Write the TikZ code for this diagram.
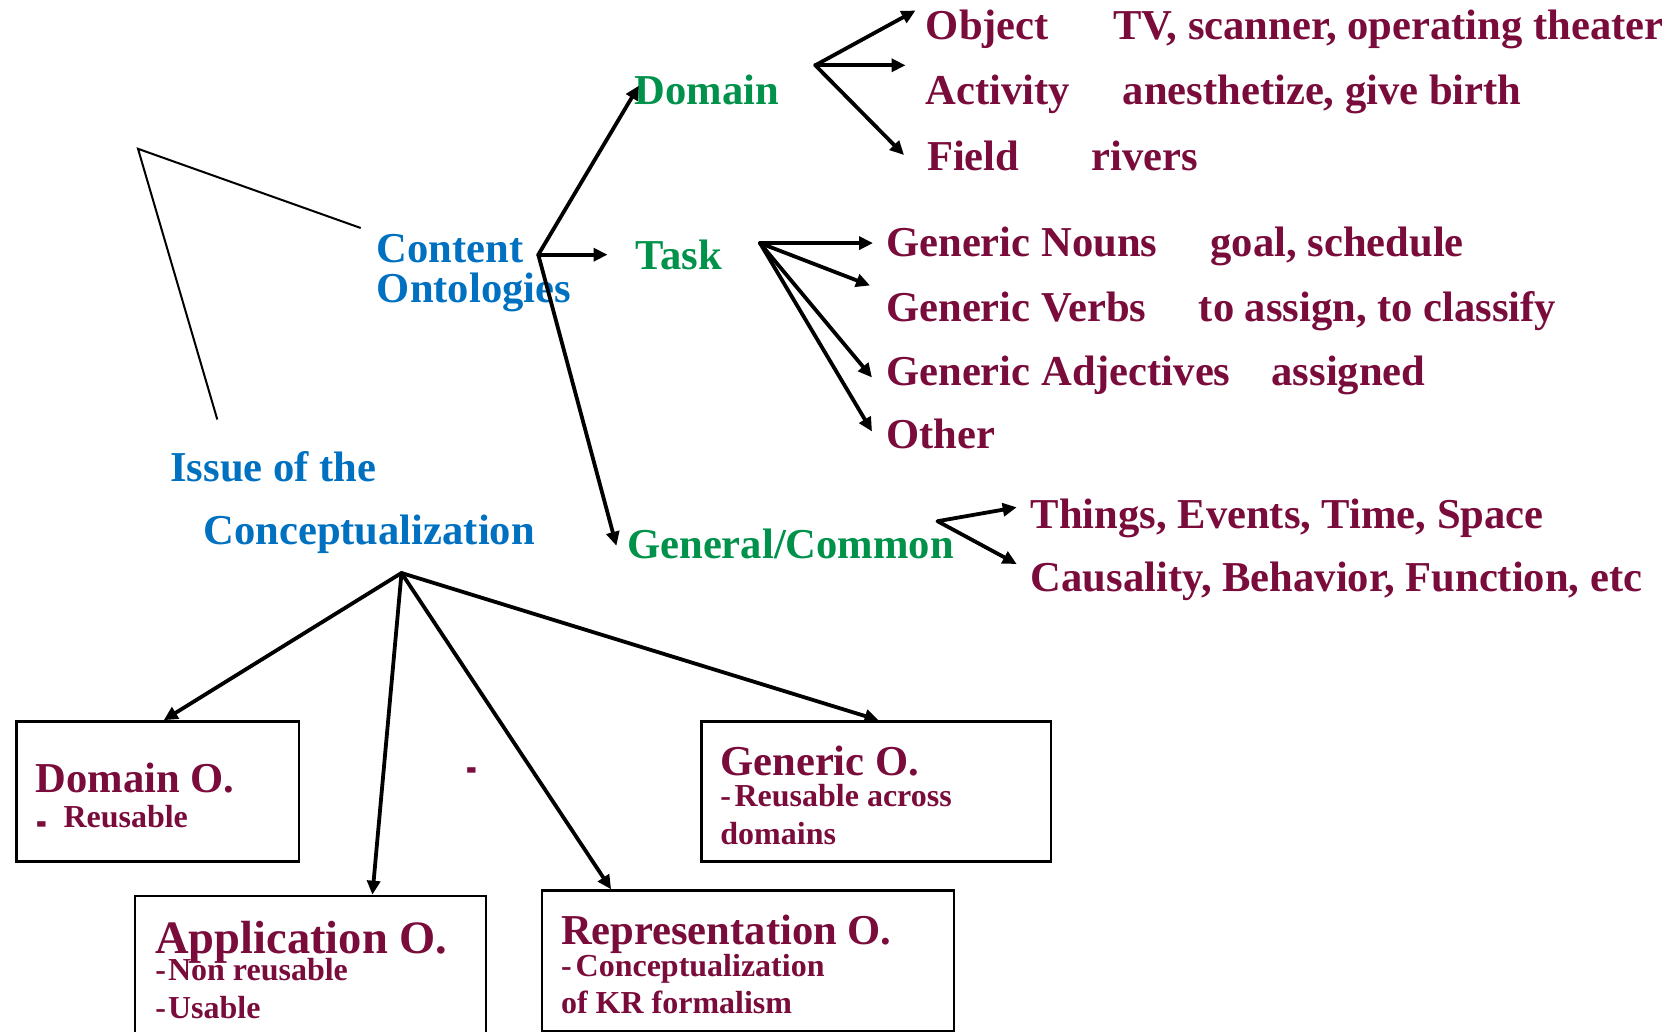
\documentclass[tikz,border=0pt]{standalone}
\usepackage{fontspec}
\usepackage{graphicx}
\setmainfont{Liberation Serif}
\usetikzlibrary{arrows.meta}
\definecolor{maroon}{HTML}{7A0C3C}
\definecolor{ontoblue}{HTML}{0070C0}
\definecolor{ontogreen}{HTML}{00924A}

\begin{document}
\begin{tikzpicture}[x=1pt,y=-1pt,
  lbl/.style={anchor=base west, inner sep=0pt, font=\fontsize{42.6}{42.6}\selectfont\bfseries},
  big/.style={lbl, text=maroon},
  subtxt/.style={anchor=base west, inner sep=0pt, text=maroon, font=\fontsize{32}{32}\selectfont\bfseries},
  blu/.style={lbl, text=ontoblue},
  grn/.style={lbl, text=ontogreen},
  arr/.style={line width=3.8pt, line cap=round, -{Triangle[length=14pt,width=13pt]}},
  plain/.style={line width=2pt},
  obox/.style={draw, line width=2.5pt, inner sep=0pt, anchor=north west}]

\clip (0,0) rectangle (1678,1032);
\fill[white] (0,0) rectangle (1678,1032);

% ---- Domain branch ----
\node[grn] (dom) at (634.6,104.9) {Domain};
\node[big] (obj) at (925.7,39.6) {Object};
\node[big] (objx) at (1113,39.6) {TV, scanner, operating theater};
\node[big] (act) at (925.7,104.9) {Activity};
\node[big] (actx) at (1122.6,104.9) {anesthetize, give birth};
\node[big] (fld) at (926.8,171) {Field};
\node[big] (fldx) at (1091.6,171) {rivers};

% ---- Content ontologies and task branch ----
\node[blu] (con1) at (376.7,262.2) {Content};
\node[blu] (con2) at (376.7,302.9) {Ontologies};
\node[grn] (task) at (635.7,269.7) {Task};
\node[big] (gn) at (886.1,256.8) {Generic Nouns};
\node[big] (gnx) at (1210.4,256.8) {goal, schedule};
\node[big] (gv) at (886.1,321) {Generic Verbs};
\node[big] (gvx) at (1198.6,321) {to assign, to classify};
\node[big] (ga) at (886.1,385.3) {Generic Adjectives};
\node[big] (gax) at (1271.4,385.3) {assigned};
\node[big] (oth) at (886.1,448.4) {Other};

% ---- General / common branch ----
\node[grn] (gen) at (627.1,558.6) {General/Common};
\node[big] (thg) at (1030.6,528.7) {Things, Events, Time, Space};
\node[big] (cau) at (1030.6,591.8) {Causality, Behavior, Function, etc};

% ---- Conceptualization ----
\node[blu] (iss1) at (170.2,481.6) {Issue of the};
\node[blu] (iss2) at (203.3,544.7) {Conceptualization};

% ---- Ontology boxes ----
\node[obox, minimum width=282.5pt, minimum height=140.2pt] (bxDom) at (15,720.2) {};
\node[obox, minimum width=351pt, minimum height=165pt] (bxApp) at (133.8,894.7) {};
\node[obox, minimum width=412pt, minimum height=140.2pt] (bxRep) at (540.5,889.3) {};
\node[obox, minimum width=349.9pt, minimum height=140.2pt] (bxGen) at (700,720.2) {};

\node[big] (tDom) at (35.3,792) {Domain O.};
\node[subtxt] (tDomA) at (36,839) {\smash{\scalebox{1}[2]{-}}};
\node[subtxt] (tDomB) at (63.3,827.7) {Reusable};

\node[big, font=\fontsize{46.5}{46.5}\selectfont\bfseries] (tApp) at (155.2,953.3) {Application O.};
\node[subtxt] (tAppA) at (155.2,980) {-\kern2pt Non reusable};
\node[subtxt] (tAppB) at (155.2,1018.3) {-\kern2pt Usable};

\node[big] (tRep) at (560.8,944) {Representation O.};
\node[subtxt] (tRepA) at (560.8,976) {-\kern4pt Conceptualization};
\node[subtxt] (tRepB) at (560.8,1013.3) {of KR formalism};

\node[big] (tGen) at (720.2,775) {Generic O.};
\node[subtxt] (tGenA) at (720.2,806.7) {-\kern3.5pt Reusable across};
\node[subtxt] (tGenB) at (720.2,844) {domains};

\node[subtxt] (dash) at (466.7,785) {\smash{\scalebox{1}[2]{-}}};

% ---- Branch points ----
\coordinate (jD) at (815.3,65.3);
\coordinate (jC) at (538.3,254.7);
\coordinate (jT) at (760,243.1);
\coordinate (jG) at (937.5,521.2);
\coordinate (jI) at (401.5,573);
\coordinate (apex) at (138,148.8);
\coordinate (lnA) at (360.7,228);
\coordinate (lnB) at (217.3,419.5);

% ---- Arrow ends beside the labels ----
\coordinate (eDom) at (638.9,85.6);
\coordinate (eTask) at (607.5,254.7);
\coordinate (eGen) at (616.4,545.8);
\coordinate (eObj) at (915.5,10.5);
\coordinate (eAct) at (905.5,65.3);
\coordinate (eFld) at (904,155);
\coordinate (eGn) at (873,243.1);
\coordinate (eGv) at (870,285.5);
\coordinate (eGa) at (872,377.5);
\coordinate (eOth) at (872,431.5);
\coordinate (eThg) at (1016.7,507.3);
\coordinate (eCau) at (1016.7,564);

% ---- Connectors ----
\draw[plain] (lnA) -- (apex) -- (lnB);

\draw[arr] (jC) -- (eDom);
\draw[arr] (jC) -- (eTask);
\draw[arr] (jC) -- (eGen);

\draw[arr] (jD) -- (eObj);
\draw[arr] (jD) -- (eAct);
\draw[arr] (jD) -- (eFld);

\draw[arr] (jT) -- (eGn);
\draw[arr] (jT) -- (eGv);
\draw[arr] (jT) -- (eGa);
\draw[arr] (jT) -- (eOth);

\draw[arr] (jG) -- (eThg);
\draw[arr] (jG) -- (eCau);

\draw[arr] (jI) -- (bxDom.north -| 163.7,0);
\draw[arr] (jI) -- (bxApp.north -| 372.4,0);
\draw[arr] (jI) -- (bxRep.north -| 611.1,0);
\draw[arr] (jI) -- (bxGen.north -| 878.6,0);

\end{tikzpicture}
\end{document}
